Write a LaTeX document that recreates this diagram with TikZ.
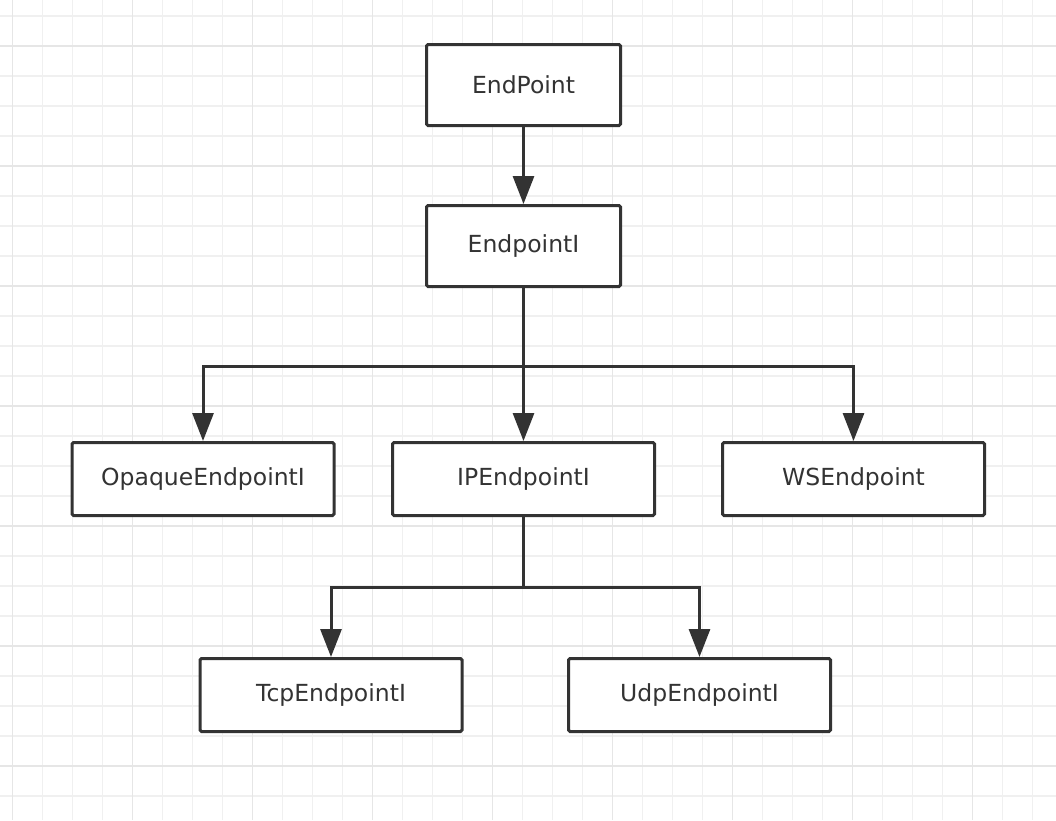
\documentclass[tikz,border=0pt]{standalone}
\usepackage{fontspec}
\setmainfont{DejaVu Sans}
\usetikzlibrary{arrows.meta}
\definecolor{ink}{HTML}{333333}
\definecolor{gridminor}{HTML}{F0F0F0}
\definecolor{gridmajor}{HTML}{E6E6E6}
\tikzset{
  box/.style={draw=ink, line width=3pt, rounded corners=1.5pt, fill=white, inner sep=0pt, font=\fontsize{23.5}{28}\selectfont, text=ink},
  topbox/.style={box, minimum width=194pt, minimum height=81pt},
  lowbox/.style={box, minimum width=262pt, minimum height=73pt},
  arr/.style={draw=ink, line width=3pt, -{Triangle[length=28pt,width=21pt]}},
  link/.style={draw=ink, line width=3pt}
}
\begin{document}
\begin{tikzpicture}[x=1pt,y=-1pt]
\useasboundingbox (0,0) rectangle (1056,820);
\fill[white] (0,0) rectangle (1056,820);
\begin{scope}
\clip (0,0) rectangle (1056,820);
\foreach \k in {0,...,35} {
  \draw[gridminor, line width=1.5pt] ({12.7+30*\k},0) -- ({12.7+30*\k},820);
}
\foreach \k in {0,...,27} {
  \draw[gridminor, line width=1.5pt] (0,{16+30*\k}) -- (1056,{16+30*\k});
}
\foreach \k in {0,...,8} {
  \draw[gridmajor, line width=1.5pt] ({12.7+120*\k},0) -- ({12.7+120*\k},820);
}
\foreach \k in {0,...,6} {
  \draw[gridmajor, line width=1.5pt] (0,{46+120*\k}) -- (1056,{46+120*\k});
}
\end{scope}

\node[topbox] (ep) at (523.5,85) {EndPoint};
\node[topbox] (epi) at (523.5,246) {EndpointI};
\node[lowbox] (ope) at (203,479) {OpaqueEndpointI};
\node[lowbox] (ipe) at (523.5,479) {IPEndpointI};
\node[lowbox] (wse) at (853.5,479) {WSEndpoint};
\node[lowbox] (tcp) at (331,695) {TcpEndpointI};
\node[lowbox] (udp) at (699.5,695) {UdpEndpointI};

\coordinate (j1) at (523.5,366);
\coordinate (j2) at (523.5,587);

\draw[arr] (ep.south) -- (epi.north);
\draw[arr] (epi.south) -- (ipe.north);
\draw[arr] (j1) -| (ope.north);
\draw[arr] (j1) -| (wse.north);
\draw[link] (ipe.south) -- (j2);
\draw[arr] (j2) -| (tcp.north);
\draw[arr] (j2) -| (udp.north);
\end{tikzpicture}
\end{document}
